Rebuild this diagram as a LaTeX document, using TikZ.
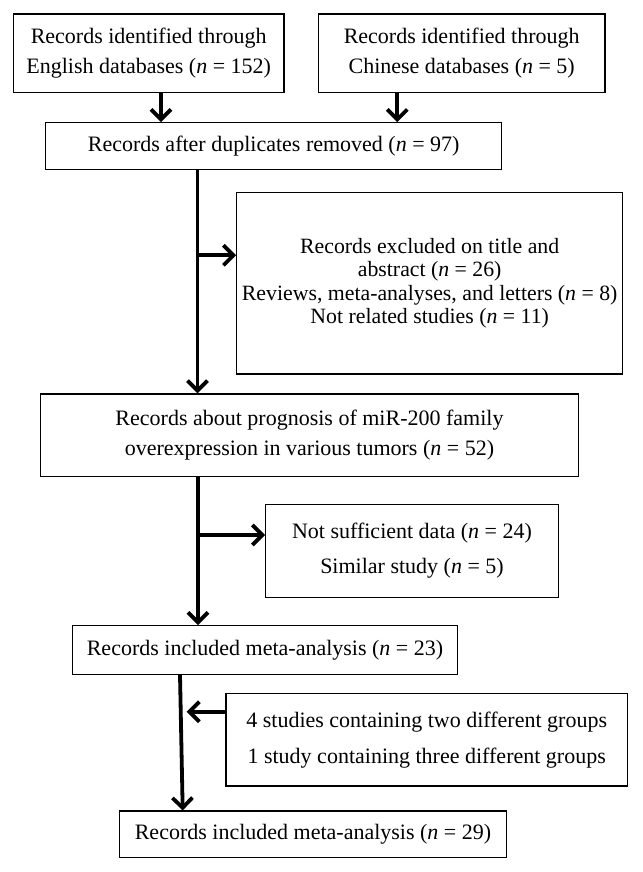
\documentclass[tikz,border=0pt]{standalone}
\usepackage{fontspec}
\setmainfont{Liberation Serif}
\usetikzlibrary{arrows.meta}
\tikzset{
  box/.style={draw=black, line width=1.2pt, inner sep=0pt, align=center, font=\fontsize{22}{30}\selectfont},
  arr/.style={line width=3.8pt, -{Straight Barb[length=10pt,width=20pt]}}
}
\newcommand{\nn}{\textit{n}}

\begin{document}
\begin{tikzpicture}[x=1pt, y=-1pt]

  \useasboundingbox (0,0) rectangle (642,872);

  \node[box, minimum width=270.7pt, minimum height=78.3pt] (eng) at (148.7,53.2)
    {Records identified through\\English databases (\nn{} = 152)};
  \node[box, minimum width=286.7pt, minimum height=78.3pt] (chn) at (461.7,53.2)
    {Records identified through\\Chinese databases (\nn{} = 5)};
  \node[box, minimum width=456pt, minimum height=46.6pt] (dup) at (273.7,146)
    {Records after duplicates removed (\nn{} = 97)};
  \node[box, minimum width=386pt, minimum height=181.7pt, font=\fontsize{21.8}{23.3}\selectfont] (excl) at (429.7,283.2)
    {Records excluded on title and\\abstract (\nn{} = 26)\\Reviews, meta-analyses, and letters (\nn{} = 8)\\Not related studies (\nn{} = 11)};
  \node[box, minimum width=537.6pt, minimum height=82.7pt] (prog) at (309.5,435.3)
    {Records about prognosis of miR-200 family\\overexpression in various tumors (\nn{} = 52)};
  \node[box, minimum width=292.6pt, minimum height=93.4pt, font=\fontsize{22}{35}\selectfont] (insuf) at (412,551)
    {Not sufficient data (\nn{} = 24)\\Similar study (\nn{} = 5)};
  \node[box, minimum width=384.6pt, minimum height=48.6pt] (meta) at (265,650)
    {Records included meta-analysis (\nn{} = 23)};
  \node[box, minimum width=401.3pt, minimum height=92.7pt, font=\fontsize{22}{36}\selectfont] (grp) at (426.7,739.7)
    {4 studies containing two different groups\\1 study containing three different groups};
  \node[box, minimum width=387.4pt, minimum height=46.3pt] (final) at (313,834.2)
    {Records included meta-analysis (\nn{} = 29)};

  \coordinate (j1) at (197.5,255.3);
  \coordinate (j2) at (198,535);
  \coordinate (j3) at (186.7,711.7);

  \draw[arr] ([xshift=12.3pt]eng.south) -- ([xshift=12.3pt]eng.south |- dup.north);
  \draw[arr] ([xshift=-64.4pt]chn.south) -- ([xshift=-64.4pt]chn.south |- dup.north);
  \draw[arr] ([xshift=-76.2pt]dup.south) -- ([xshift=-76.2pt]dup.south |- prog.north);
  \draw[arr] (j1) -- (j1 -| excl.west);
  \draw[arr] ([xshift=-111.5pt]prog.south) -- ([xshift=-111.5pt]prog.south |- meta.north);
  \draw[arr] (j2) -- (j2 -| insuf.west);
  \draw[arr] ([xshift=-85pt]meta.south) -- ([xshift=-130.3pt]final.north);
  \draw[arr] (j3 -| grp.west) -- (j3);

\end{tikzpicture}
\end{document}
